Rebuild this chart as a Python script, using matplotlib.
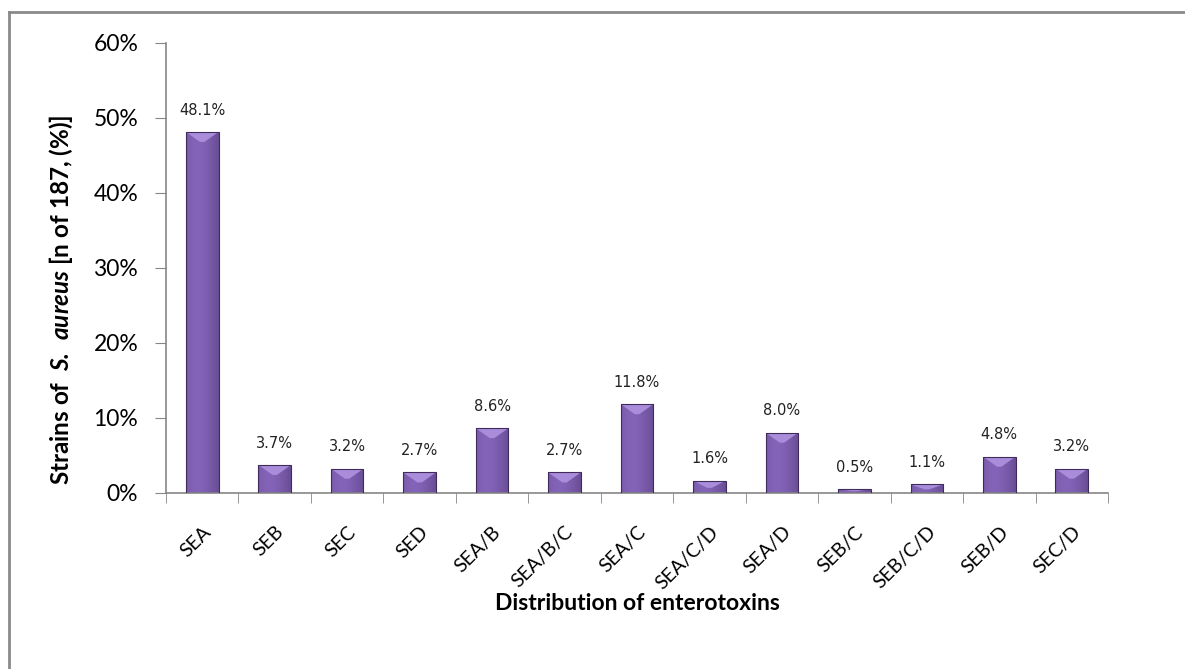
import matplotlib
matplotlib.use('Agg')
import numpy as np
from matplotlib import pyplot as plt, patches
from matplotlib.lines import Line2D

toxins = ['SEA', 'SEB', 'SEC', 'SED', 'SEA/B', 'SEA/B/C', 'SEA/C',
          'SEA/C/D', 'SEA/D', 'SEB/C', 'SEB/C/D', 'SEB/D', 'SEC/D']
percent = [48.1, 3.7, 3.2, 2.7, 8.6, 2.7, 11.8, 1.6, 8.0, 0.5, 1.1, 4.8, 3.2]
yticks = [0, 10, 20, 30, 40, 50, 60]

plt.rcParams['font.family'] = ['Lato', 'DejaVu Sans']
plt.rcParams['mathtext.fontset'] = 'custom'
plt.rcParams['mathtext.bfit'] = 'Lato:italic:bold'
plt.rcParams['mathtext.bf'] = 'Lato:bold'

fig = plt.figure(figsize=(11.85, 6.69), dpi=100)
ax = fig.add_axes([166/1185, 1 - 492.7/669, (1108 - 166)/1185, 450/669])

x = np.arange(len(toxins))
width = 0.45
ax.set_xlim(-0.5, len(toxins) - 0.5)
ax.set_ylim(0, 60)

# shaded bars: horizontal gradient clipped to each bar, light bevel on top
grad = np.linspace(0, 1, 64)
shade = 1 - 0.55 * np.abs(grad - 0.35) ** 1.5
cmap = matplotlib.colors.LinearSegmentedColormap.from_list('purp', ['#4d3470', '#8464b8'])
px_per_unit = 450 / 60
bevel = 10 / px_per_unit
for xi, v in zip(x, percent):
    rect = patches.Rectangle((xi - width/2, 0), width, v, facecolor='none',
                             edgecolor='#3f2b5c', linewidth=0.8, zorder=3)
    ax.add_patch(rect)
    im = ax.imshow(shade[np.newaxis, :], cmap=cmap, vmin=0.4, vmax=1, aspect='auto',
                   extent=(xi - width/2, xi + width/2, 0, v), zorder=2)
    im.set_clip_path(rect)
    b = min(bevel, v * 0.6)
    top = patches.Polygon([(xi - width/2, v), (xi + width/2, v),
                           (xi + 0.03, v - b), (xi - 0.03, v - b)],
                          closed=True, facecolor='#a98dda', edgecolor='none', zorder=2.5)
    ax.add_patch(top)
    top.set_clip_path(rect)
    ax.text(xi, v + 1.9, f'{v:.1f}%', ha='center', va='bottom', fontsize=10.5,
            family=['DejaVu Sans'], color='#222222')

ax.set_xticks(x)
ax.set_xticklabels(toxins, rotation=45, ha='right', rotation_mode='anchor', fontsize=14)
ax.tick_params(axis='x', which='major', length=0, pad=22)
ax.set_xticks(np.arange(-0.5, len(toxins)), minor=True)
ax.tick_params(axis='x', which='minor', length=7, color='#868686', direction='out')

ax.set_yticks(yticks)
ax.set_yticklabels([f'{t}%' for t in yticks], fontsize=16.5)
ax.tick_params(axis='y', length=8, color='#868686', pad=12)

for s in ['top', 'right']:
    ax.spines[s].set_visible(False)
for s in ['left', 'bottom']:
    ax.spines[s].set_color('#868686')
    ax.spines[s].set_linewidth(1.2)

ax.set_ylabel(r'Strains of  $\mathbfit{S.\ aureus}$ [n of 187, (%)]', fontsize=17.5,
              fontweight='bold', va='center')
ax.yaxis.set_label_coords((61 - 166) / 942, (492.7 - 300) / 450)
ax.set_xlabel('Distribution of enterotoxins', fontsize=16.5, fontweight='bold', va='center')
ax.xaxis.set_label_coords(0.5, (492.7 - 604) / 450)

# outer frame
fig.add_artist(Line2D([9/1185, 9/1185], [0, 1 - 12/669], transform=fig.transFigure,
                      color='#8a8a8a', linewidth=2))
fig.add_artist(Line2D([9/1185, 1], [1 - 12/669, 1 - 12/669], transform=fig.transFigure,
                      color='#8a8a8a', linewidth=2))

fig.savefig('out.png', dpi=100)
